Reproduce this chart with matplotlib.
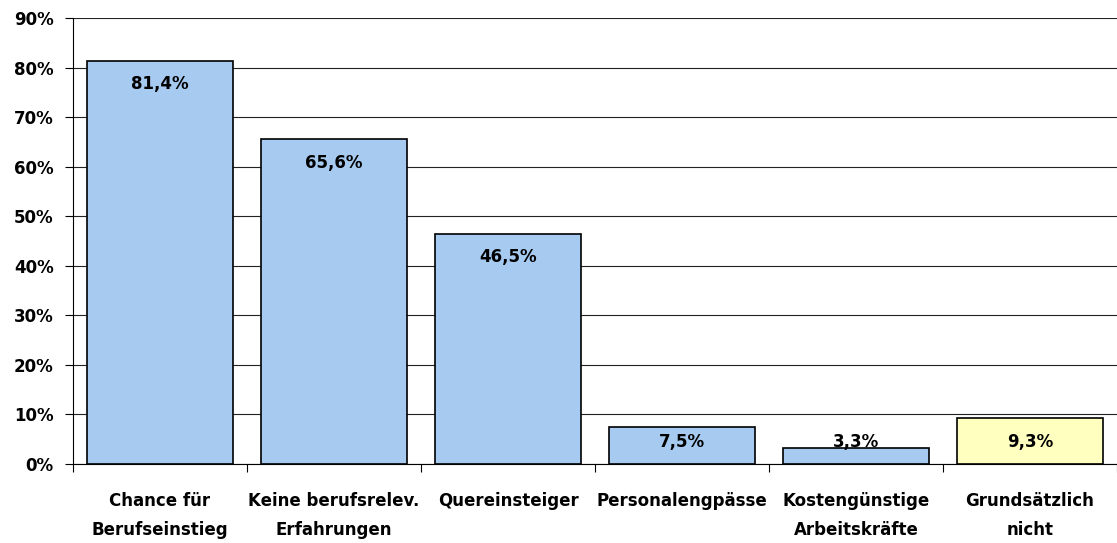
import matplotlib.pyplot as plt
import numpy as np

# values (percent)
categories = ["Chance für\nBerufseinstieg", "Keine berufsrelev.\nErfahrungen", "Quereinsteiger",
              "Personalengpässe", "Kostengünstige\nArbeitskräfte", "Grundsätzlich\nnicht"]
values = [81.4, 65.6, 46.5, 7.5, 3.3, 9.3]
labels = ["81,4%", "65,6%", "46,5%", "7,5%", "3,3%", "9,3%"]
colors = ["#A6CAF0"] * 5 + ["#FFFFC0"]

plt.rcParams['font.family'] = ['DejaVu Sans']
FS = 12

fig = plt.figure(figsize=(11.17, 5.43), dpi=100)
ax = fig.add_axes([0.0654, 0.1455, 0.9346, 0.8214])

x = np.arange(len(categories))
ax.bar(x, values, width=0.84, color=colors, edgecolor="black", linewidth=1.2, zorder=3)

for xi, v, lab in zip(x, values, labels):
    ax.text(xi, max(v - 4.8, 4.5), lab, ha="center", va="center",
            fontsize=FS, fontweight="bold", zorder=4)

ax.set_xlim(-0.5, 5.5)
ax.set_ylim(0, 90)
ax.set_yticks(np.arange(0, 91, 10))
ax.set_yticklabels([f"{t}%" for t in range(0, 91, 10)], fontsize=FS, fontweight="bold")
ax.yaxis.grid(True, color="#222222", linewidth=0.8, zorder=0)

# category separators as ticks, labels centered on bars
ax.set_xticks(np.arange(-0.5, 5.6, 1.0))
ax.set_xticklabels([])
ax.set_xticks(x, minor=True)
ax.set_xticklabels(categories, minor=True, fontsize=FS, fontweight="bold", linespacing=1.8)
ax.tick_params(axis="x", which="minor", length=0, pad=20)
ax.tick_params(axis="x", which="major", length=6, width=0.8)
ax.tick_params(axis="y", length=6, width=0.8, pad=8)

for side in ["top", "right"]:
    ax.spines[side].set_visible(False)
ax.spines["left"].set_linewidth(0.8)
ax.spines["bottom"].set_linewidth(0.8)

fig.savefig("out.png", dpi=100)
